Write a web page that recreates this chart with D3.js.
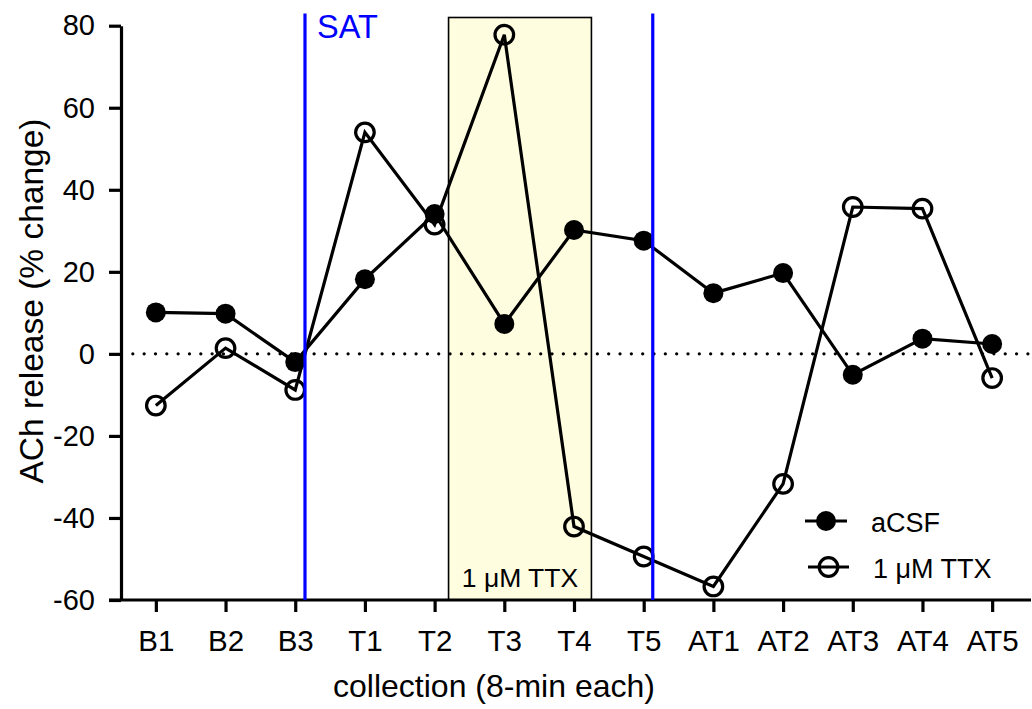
<!DOCTYPE html>
<html>
<head>
<meta charset="utf-8">
<script src="https://cdn.jsdelivr.net/npm/d3@7/dist/d3.min.js"></script>
<style>
  html, body { margin: 0; padding: 0; background: #fff; }
  svg { display: block; font-family: "Liberation Sans", Arial, sans-serif; }
</style>
</head>
<body>
<svg id="chart" width="1032" height="709"></svg>
<script>
// ---- data ----
const categories = ["B1","B2","B3","T1","T2","T3","T4","T5","AT1","AT2","AT3","AT4","AT5"];
const acsfValues = [10.1, 9.8, -2.0, 18.2, 34.1, 7.3, 30.2, 27.6, 14.8, 19.7, -5.1, 3.7, 2.4];
const ttxValues  = [-12.6, 1.4, -8.8, 54.0, 31.5, 77.8, -42.1, -49.4, -56.7, -31.7, 35.8, 35.4, -5.9];
const yTicks = [-60, -40, -20, 0, 20, 40, 60, 80];
const seriesNames = ["aCSF", "1 \u03BCM TTX"];
// event markers (in category-index units) and TTX application window
const satIndex = 2.14;
const endIndex = 7.13;
const ttxWindow = [4.2, 6.25];
const windowTop = 82;
const markerTop = 83;

// ---- layout ----
const svg = d3.select("#chart");
const mLeft = 121, mRight = 1027, axisRight = 1031, mTop = 25.7, mBottom = 600;

const x = d3.scalePoint().domain(categories).range([mLeft, mRight]).padding(0.5);
const xi = i => x(categories[0]) + i * x.step();
const y = d3.scaleLinear().domain([-60, 80]).range([mBottom, mTop]);

// TTX window box
svg.append("rect")
  .attr("x", xi(ttxWindow[0]))
  .attr("y", y(windowTop))
  .attr("width", xi(ttxWindow[1]) - xi(ttxWindow[0]))
  .attr("height", y(-60) - y(windowTop))
  .attr("fill", "#FFFDE0")
  .attr("stroke", "#000")
  .attr("stroke-width", 1.6);

svg.append("text")
  .attr("x", (xi(ttxWindow[0]) + xi(ttxWindow[1])) / 2)
  .attr("y", 587)
  .attr("text-anchor", "middle")
  .attr("font-size", 26.5)
  .text(seriesNames[1]);

// zero dotted line
svg.append("line")
  .attr("x1", mLeft + 0.5).attr("x2", axisRight)
  .attr("y1", y(0)).attr("y2", y(0))
  .attr("stroke", "#000")
  .attr("stroke-width", 3.3)
  .attr("stroke-linecap", "round")
  .attr("stroke-dasharray", "0 11.33");

// axes
const yAxis = d3.axisLeft(y).tickValues(yTicks).tickSize(12).tickSizeOuter(0).tickPadding(14)
  .tickFormat(d => String(d));
const gy = svg.append("g").attr("transform", `translate(${mLeft},0)`).call(yAxis);
gy.attr("font-family", null);
gy.selectAll("text").attr("font-size", 29).attr("fill", "#000");
gy.selectAll("line, path").attr("stroke", "#000").attr("stroke-width", 3.2);

const xAxis = d3.axisBottom(x).tickSize(12).tickSizeOuter(0);
const gx = svg.append("g").attr("transform", `translate(0,${mBottom})`).call(xAxis);
gx.attr("font-family", null);
gx.select(".domain").attr("d", `M${mLeft - 12},0H${axisRight}`);
gx.selectAll("text").attr("font-size", 29.5).attr("fill", "#000").attr("y", 51).attr("dy", 0);
gx.selectAll("line, path").attr("stroke", "#000").attr("stroke-width", 3.2);

// axis titles
svg.append("text")
  .attr("x", 494).attr("y", 697)
  .attr("text-anchor", "middle")
  .attr("font-size", 32)
  .text("collection (8-min each)");

svg.append("text")
  .attr("transform", "rotate(-90)")
  .attr("x", -301).attr("y", 43)
  .attr("text-anchor", "middle")
  .attr("font-size", 33.5)
  .text("ACh release (% change)");

// series
const line = d3.line().x((d, i) => x(categories[i])).y(d => y(d));

svg.append("path").datum(acsfValues)
  .attr("d", line).attr("fill", "none").attr("stroke", "#000").attr("stroke-width", 3.2);
svg.append("path").datum(ttxValues)
  .attr("d", line).attr("fill", "none").attr("stroke", "#000").attr("stroke-width", 3.2);

svg.append("g").selectAll("circle").data(acsfValues).join("circle")
  .attr("cx", (d, i) => x(categories[i])).attr("cy", d => y(d))
  .attr("r", 10).attr("fill", "#000");
svg.append("g").selectAll("circle").data(ttxValues).join("circle")
  .attr("cx", (d, i) => x(categories[i])).attr("cy", d => y(d))
  .attr("r", 9.3).attr("fill", "none").attr("stroke", "#000").attr("stroke-width", 3.2);

// blue event lines
[satIndex, endIndex].forEach(v => {
  svg.append("line")
    .attr("x1", xi(v)).attr("x2", xi(v))
    .attr("y1", y(markerTop)).attr("y2", mBottom)
    .attr("stroke", "#0000FF").attr("stroke-width", 3.2);
});
svg.append("text")
  .attr("x", xi(satIndex) + 12).attr("y", 38)
  .attr("font-size", 32.5).attr("fill", "#0000FF")
  .text("SAT");

// legend
const legend = svg.append("g");
const legendRows = [
  { name: seriesNames[0], filled: true, y: 521, x1: 805, x2: 847, tx: 871 },
  { name: seriesNames[1], filled: false, y: 567, x1: 808, x2: 849, tx: 873 }
];
legendRows.forEach(r => {
  legend.append("line").attr("x1", r.x1).attr("x2", r.x2).attr("y1", r.y).attr("y2", r.y)
    .attr("stroke", "#000").attr("stroke-width", 3.2);
  legend.append("circle").attr("cx", (r.x1 + r.x2) / 2).attr("cy", r.y)
    .attr("r", r.filled ? 10 : 9.3)
    .attr("fill", r.filled ? "#000" : "none")
    .attr("stroke", r.filled ? "none" : "#000").attr("stroke-width", 3.2);
  legend.append("text").attr("x", r.tx).attr("y", r.y + 11)
    .attr("font-size", 27).text(r.name);
});
</script>
</body>
</html>
